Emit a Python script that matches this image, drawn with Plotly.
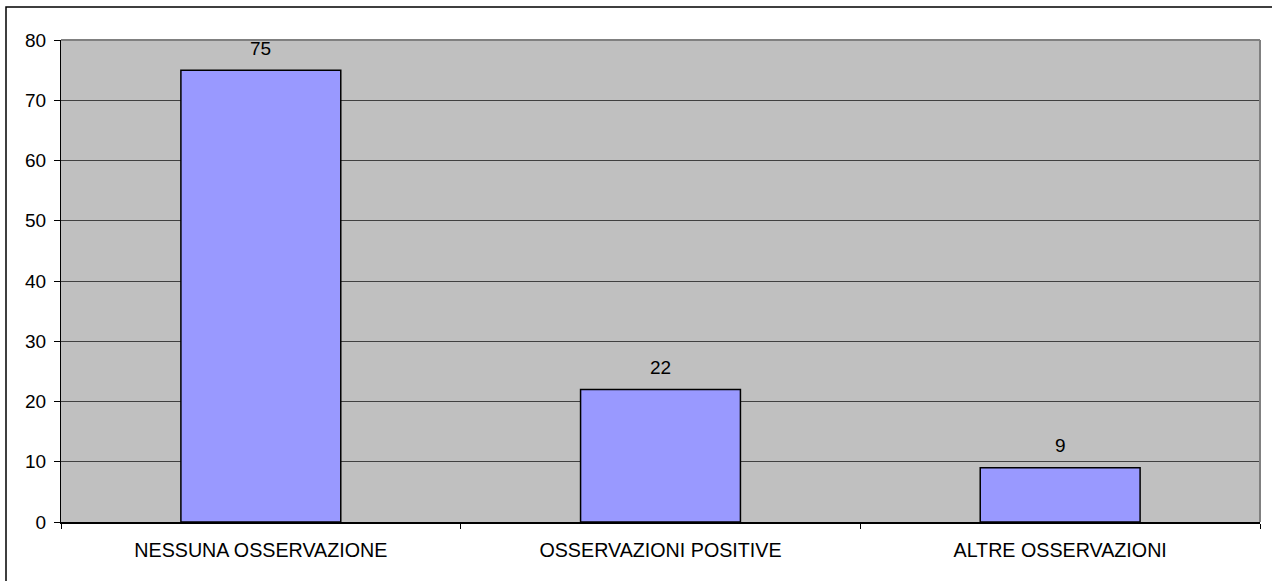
import plotly.graph_objects as go

categories = ["NESSUNA OSSERVAZIONE", "OSSERVAZIONI POSITIVE", "ALTRE OSSERVAZIONI"]
values = [75, 22, 9]
y_ticks = [0, 10, 20, 30, 40, 50, 60, 70, 80]

W, H = 1272, 581
ml, mr, mt, mb = 61, 12, 40, 59
pw = W - ml - mr
ph = H - mt - mb
FONT = "Liberation Sans, Arial"
FS = 19

fig = go.Figure(go.Bar(
    x=categories, y=values, width=0.4,
    marker=dict(color="#9999FF", line=dict(color="black", width=1.5)),
    hoverinfo="skip",
))

for c, v in zip(categories, values):
    fig.add_annotation(x=c, y=v, text=str(v), showarrow=False,
                       yanchor="middle", yshift=22,
                       font=dict(family=FONT, size=FS, color="black"))

fig.update_layout(
    width=W, height=H,
    margin=dict(l=ml, r=mr, t=mt, b=mb, pad=0),
    paper_bgcolor="white", plot_bgcolor="#C0C0C0",
    font=dict(family=FONT, size=FS, color="black"),
    showlegend=False,
    xaxis=dict(showline=True, linecolor="black", linewidth=1.5,
               ticks="outside", tickson="boundaries", ticklen=5, tickcolor="black",
               showgrid=False, tickfont=dict(size=19.7), ticklabelstandoff=10),
    yaxis=dict(range=[0, 80], tickvals=y_ticks, showline=True, linecolor="black", linewidth=1,
               ticks="outside", ticklen=6, tickcolor="black",
               showgrid=True, gridcolor="#404040", gridwidth=1, zeroline=False,
               tickfont=dict(size=FS), ticklabelstandoff=4),
    shapes=[
        dict(type="line", xref="paper", yref="paper", x0=0, x1=1, y0=1, y1=1,
             line=dict(color="#808080", width=2)),
        dict(type="line", xref="paper", yref="paper", x0=1, x1=1, y0=0, y1=1,
             line=dict(color="#808080", width=2)),
        dict(type="rect", xref="paper", yref="paper",
             x0=(6 - ml) / pw, x1=1.2, y0=-0.5, y1=(H - mb - 7) / ph,
             line=dict(color="black", width=1.5), layer="below"),
    ],
)

fig.write_html("out.html", config={"displayModeBar": False},
               post_script="document.body.style.margin='0';document.body.style.overflow='hidden';")
